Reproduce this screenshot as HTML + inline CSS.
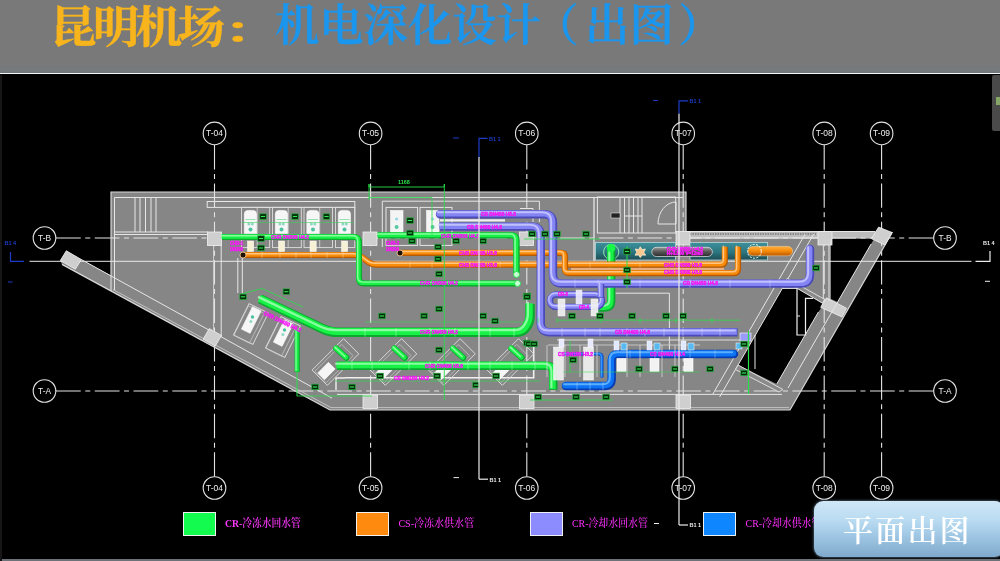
<!DOCTYPE html>
<html lang="zh-CN"><head><meta charset="utf-8"><title>昆明机场：机电深化设计（出图）</title>
<style>
html,body{margin:0;padding:0;background:#000;}
body{width:1000px;height:561px;position:relative;overflow:hidden;font-family:"Liberation Sans","Noto Sans CJK SC",sans-serif;}
#bar{position:absolute;left:0;top:0;width:1000px;height:72.5px;background:linear-gradient(#797979 0,#797979 62px,#747a7e 71px,#6f7578 72.5px);}
#barline{position:absolute;left:0;top:72.6px;width:1000px;height:1.7px;background:#f4f8fc;}
.t{position:absolute;top:0;white-space:nowrap;will-change:transform;font-family:"Liberation Serif","Noto Serif CJK SC",serif;line-height:1;}
#t1{left:49.7px;top:6.5px;font-size:44px;letter-spacing:-3.7px;transform:scaleX(1.06);transform-origin:0 0;font-weight:700;color:#f7b41c;-webkit-text-stroke:.5px #f7b41c;}
#t2{left:274.5px;top:5px;font-size:44.3px;font-weight:600;color:#1a96ee;-webkit-text-stroke:.45px #1a96ee;}
#cad{position:absolute;left:0;top:0;will-change:transform;}
#cad text{font-family:"Liberation Sans","Noto Sans CJK SC",sans-serif;}
.leg{position:absolute;top:512.3px;width:32.5px;height:24.2px;border:1px solid #f0f0f0;box-sizing:border-box;}
.lt{position:absolute;top:516px;font-family:"Liberation Serif","Noto Serif CJK SC",serif;font-size:10.8px;line-height:14px;color:#ff30ff;white-space:nowrap;font-weight:500;transform-origin:0 50%;transform:scaleX(.93);}
#btn{position:absolute;left:813.5px;top:500.5px;width:190px;height:56px;border-radius:9px;
 background:linear-gradient(#cfe7f7 0%,#b9dbf1 35%,#9fc7e4 62%,#7fa9cc 100%);box-shadow:0 0 3px rgba(160,200,230,.7);}
#btn span{will-change:transform;position:absolute;left:29px;top:12px;font-family:"Liberation Serif","Noto Serif CJK SC",serif;font-size:30px;line-height:36px;color:#fff;letter-spacing:2.2px;white-space:nowrap;font-weight:600;}
#botline{position:absolute;left:0;top:559.3px;width:1000px;height:2px;background:#6c7278;}
#lefte{position:absolute;left:0;top:75px;width:1.5px;height:486px;background:#161616;}
#pan{position:absolute;left:991.5px;top:75px;width:9px;height:55.5px;background:#4a4a4a;border-radius:2px 0 0 2px;}
#pan i{position:absolute;left:4.5px;top:21.5px;width:5px;height:8px;background:#86a666;}
</style></head><body>
<div id="bar"></div><div id="barline"></div>
<div class="t" id="t1">昆明机场<span style="display:inline-block;margin-left:3px;transform:scale(1.2,.74);transform-origin:12% 72%">：</span></div>
<div class="t" id="t2">机电深化设计<span style="margin-left:-6.5px;margin-right:6.5px">（</span>出图<span style="margin-left:4.5px">）</span></div>
<svg id="cad" width="1000" height="561" viewBox="0 0 1000 561">
<g id="building">
<polygon points="111.0,192.0 686.0,192.0 686.0,231.4 879.0,231.4 892.5,232.0 790.0,410.0 330.0,410.0 62.0,264.4 60.3,260.6 66.3,250.8 81.3,259.5 111.0,275.5" fill="#868686" stroke="none" stroke-width="1" />
<polygon points="831.0,238.5 874.3,238.5 837.7,302.0 831.0,299.0" fill="#000" stroke="none" stroke-width="1" />
<polygon points="782.3,288.4 797.0,288.4 822.0,303.5 820.5,309.0 818.4,312.0 776.8,384.0 738.1,365.0" fill="#000" stroke="none" stroke-width="1" />
<rect x="686.0" y="232.0" width="189.0" height="6.5" fill="#bcbcbc" stroke="none" stroke-width="1" />
<line x1="690.0" y1="234.0" x2="816.0" y2="234.0" stroke="#8a8a8a" stroke-width="2" stroke-dasharray="1.5 1"/>
<g id="axes"><line x1="214.5" y1="145" x2="214.5" y2="476.5" stroke="#e4e4e4" stroke-width="1.1" stroke-dasharray="24.4 4.5 5 4.5"/>
<circle cx="214.5" cy="133.4" r="11.3" fill="none" stroke="#e4e4e4" stroke-width="1.1"/>
<text x="214.5" y="136.4" fill="#f0f0f0" font-size="8.6" text-anchor="middle" textLength="17" lengthAdjust="spacingAndGlyphs">T-04</text>
<circle cx="214.5" cy="488" r="11.3" fill="none" stroke="#e4e4e4" stroke-width="1.1"/>
<text x="214.5" y="491" fill="#f0f0f0" font-size="8.6" text-anchor="middle" textLength="17" lengthAdjust="spacingAndGlyphs">T-04</text>
<line x1="370.6" y1="145" x2="370.6" y2="476.5" stroke="#e4e4e4" stroke-width="1.1" stroke-dasharray="24.4 4.5 5 4.5"/>
<circle cx="370.6" cy="133.4" r="11.3" fill="none" stroke="#e4e4e4" stroke-width="1.1"/>
<text x="370.6" y="136.4" fill="#f0f0f0" font-size="8.6" text-anchor="middle" textLength="17" lengthAdjust="spacingAndGlyphs">T-05</text>
<circle cx="370.6" cy="488" r="11.3" fill="none" stroke="#e4e4e4" stroke-width="1.1"/>
<text x="370.6" y="491" fill="#f0f0f0" font-size="8.6" text-anchor="middle" textLength="17" lengthAdjust="spacingAndGlyphs">T-05</text>
<line x1="526.8" y1="145" x2="526.8" y2="476.5" stroke="#e4e4e4" stroke-width="1.1" stroke-dasharray="24.4 4.5 5 4.5"/>
<circle cx="526.8" cy="133.4" r="11.3" fill="none" stroke="#e4e4e4" stroke-width="1.1"/>
<text x="526.8" y="136.4" fill="#f0f0f0" font-size="8.6" text-anchor="middle" textLength="17" lengthAdjust="spacingAndGlyphs">T-06</text>
<circle cx="526.8" cy="488" r="11.3" fill="none" stroke="#e4e4e4" stroke-width="1.1"/>
<text x="526.8" y="491" fill="#f0f0f0" font-size="8.6" text-anchor="middle" textLength="17" lengthAdjust="spacingAndGlyphs">T-06</text>
<line x1="683.2" y1="145" x2="683.2" y2="476.5" stroke="#e4e4e4" stroke-width="1.1" stroke-dasharray="24.4 4.5 5 4.5"/>
<circle cx="683.2" cy="133.4" r="11.3" fill="none" stroke="#e4e4e4" stroke-width="1.1"/>
<text x="683.2" y="136.4" fill="#f0f0f0" font-size="8.6" text-anchor="middle" textLength="17" lengthAdjust="spacingAndGlyphs">T-07</text>
<circle cx="683.2" cy="488" r="11.3" fill="none" stroke="#e4e4e4" stroke-width="1.1"/>
<text x="683.2" y="491" fill="#f0f0f0" font-size="8.6" text-anchor="middle" textLength="17" lengthAdjust="spacingAndGlyphs">T-07</text>
<line x1="824.2" y1="145" x2="824.2" y2="476.5" stroke="#e4e4e4" stroke-width="1.1" stroke-dasharray="24.4 4.5 5 4.5"/>
<circle cx="824.2" cy="133.4" r="11.3" fill="none" stroke="#e4e4e4" stroke-width="1.1"/>
<text x="824.2" y="136.4" fill="#f0f0f0" font-size="8.6" text-anchor="middle" textLength="17" lengthAdjust="spacingAndGlyphs">T-08</text>
<circle cx="824.2" cy="488" r="11.3" fill="none" stroke="#e4e4e4" stroke-width="1.1"/>
<text x="824.2" y="491" fill="#f0f0f0" font-size="8.6" text-anchor="middle" textLength="17" lengthAdjust="spacingAndGlyphs">T-08</text>
<line x1="881.6" y1="145" x2="881.6" y2="476.5" stroke="#e4e4e4" stroke-width="1.1" stroke-dasharray="24.4 4.5 5 4.5"/>
<circle cx="881.6" cy="133.4" r="11.3" fill="none" stroke="#e4e4e4" stroke-width="1.1"/>
<text x="881.6" y="136.4" fill="#f0f0f0" font-size="8.6" text-anchor="middle" textLength="17" lengthAdjust="spacingAndGlyphs">T-09</text>
<circle cx="881.6" cy="488" r="11.3" fill="none" stroke="#e4e4e4" stroke-width="1.1"/>
<text x="881.6" y="491" fill="#f0f0f0" font-size="8.6" text-anchor="middle" textLength="17" lengthAdjust="spacingAndGlyphs">T-09</text>
<line x1="56" y1="238" x2="933.5" y2="238" stroke="#e4e4e4" stroke-width="1.1" stroke-dasharray="24.76 4.5 5 4.5"/>
<circle cx="44.5" cy="238" r="11.3" fill="none" stroke="#e4e4e4" stroke-width="1.1"/>
<text x="44.5" y="241" fill="#f0f0f0" font-size="8.6" text-anchor="middle" textLength="13" lengthAdjust="spacingAndGlyphs">T-B</text>
<circle cx="945" cy="238" r="11.3" fill="none" stroke="#e4e4e4" stroke-width="1.1"/>
<text x="945" y="241" fill="#f0f0f0" font-size="8.6" text-anchor="middle" textLength="13" lengthAdjust="spacingAndGlyphs">T-B</text>
<line x1="56" y1="391" x2="933.5" y2="391" stroke="#e4e4e4" stroke-width="1.1" stroke-dasharray="24.76 4.5 5 4.5"/>
<circle cx="44.5" cy="391" r="11.3" fill="none" stroke="#e4e4e4" stroke-width="1.1"/>
<text x="44.5" y="394" fill="#f0f0f0" font-size="8.6" text-anchor="middle" textLength="13" lengthAdjust="spacingAndGlyphs">T-A</text>
<circle cx="945" cy="391" r="11.3" fill="none" stroke="#e4e4e4" stroke-width="1.1"/>
<text x="945" y="394" fill="#f0f0f0" font-size="8.6" text-anchor="middle" textLength="13" lengthAdjust="spacingAndGlyphs">T-A</text></g>
<polyline points="62.0,264.4 330.0,410.0 790.0,410.0 892.5,232.0" fill="none" stroke="#d8d8d8" stroke-width="1.2" />
<polyline points="111.0,291.0 111.0,192.0 686.0,192.0 686.0,231.0" fill="none" stroke="#d8d8d8" stroke-width="1.2" />
<line x1="686.0" y1="231.5" x2="875.0" y2="231.5" stroke="#e6e6e6" stroke-width="1" />
<line x1="690.0" y1="238.0" x2="818.0" y2="238.0" stroke="#e6e6e6" stroke-width="1" />
<polyline points="114.5,290.0 114.5,197.5 683.0,197.5" fill="none" stroke="#e6e6e6" stroke-width="1" />
<line x1="114.5" y1="232.0" x2="208.0" y2="232.0" stroke="#e6e6e6" stroke-width="1" />
<line x1="114.5" y1="234.5" x2="208.0" y2="234.5" stroke="#e6e6e6" stroke-width="1" />
<line x1="135.0" y1="197.5" x2="135.0" y2="232.0" stroke="#e6e6e6" stroke-width="1" />
<line x1="140.0" y1="197.5" x2="140.0" y2="232.0" stroke="#e6e6e6" stroke-width="1" />
<line x1="145.5" y1="197.5" x2="145.5" y2="232.0" stroke="#e6e6e6" stroke-width="1" />
<line x1="151.0" y1="197.5" x2="151.0" y2="232.0" stroke="#e6e6e6" stroke-width="1" />
<line x1="156.0" y1="197.5" x2="156.0" y2="232.0" stroke="#e6e6e6" stroke-width="1" />
<line x1="81.3" y1="259.5" x2="332.0" y2="398.1" stroke="#e6e6e6" stroke-width="1" />
<polyline points="113.0,289.5 331.0,407.6 789.0,407.6" fill="none" stroke="#c8c8c8" stroke-width="0.9" />
<line x1="29.5" y1="261.3" x2="971.5" y2="261.3" stroke="#e8e8e8" stroke-width="1" />
<line x1="221.2" y1="245.0" x2="221.2" y2="336.8" stroke="#e6e6e6" stroke-width="1" />
<line x1="213.6" y1="245.0" x2="213.6" y2="330.0" stroke="#d0d0d0" stroke-width="1" />
<polyline points="237.8,258.0 237.8,293.0" fill="none" stroke="#e6e6e6" stroke-width="1" />
<polyline points="242.3,258.0 242.3,293.0" fill="none" stroke="#e6e6e6" stroke-width="1" />
<line x1="337.0" y1="394.4" x2="782.0" y2="394.4" stroke="#e6e6e6" stroke-width="1" />
<polyline points="345.0,377.7 533.7,377.7 533.7,345.0" fill="none" stroke="#f0f0f0" stroke-width="1.6" />
<rect x="207.2" y="201.5" width="147.6" height="5.9" fill="none" stroke="#e6e6e6" stroke-width="1" />
<line x1="354.8" y1="207.0" x2="354.8" y2="235.0" stroke="#e6e6e6" stroke-width="1" />
<rect x="241.5" y="207.3" width="28.2" height="40.3" fill="none" stroke="#dedede" stroke-width="0.9" />
<line x1="257.2" y1="207.3" x2="257.2" y2="247.6" stroke="#d8d8d8" stroke-width="0.8" />
<path d="M244.3 233.4 V214 Q244.3 210.4 248.0 210.4 H252.8 Q256.5 210.4 256.5 214 V233.4 Z" fill="#f6f6f6" stroke="#fff" stroke-width=".6"/>
<circle cx="250.5" cy="229.5" r="2" fill="#4cc0a0"/><circle cx="248.9" cy="224" r="1.5" fill="#8fd8c4"/><circle cx="252.3" cy="224" r="1.5" fill="#8fd8c4"/>
<line x1="245.5" y1="219.5" x2="255.5" y2="219.5" stroke="#7fe0a0" stroke-width="0.8" />
<rect x="247.5" y="241.0" width="6.2" height="10.5" fill="#f6f0d4" stroke="#fff" stroke-width="0.5" />
<rect x="272.5" y="207.3" width="28.8" height="40.3" fill="none" stroke="#dedede" stroke-width="0.9" />
<line x1="288.2" y1="207.3" x2="288.2" y2="247.6" stroke="#d8d8d8" stroke-width="0.8" />
<path d="M275.3 233.4 V214 Q275.3 210.4 279.0 210.4 H283.8 Q287.5 210.4 287.5 214 V233.4 Z" fill="#f6f6f6" stroke="#fff" stroke-width=".6"/>
<circle cx="281.5" cy="229.5" r="2" fill="#4cc0a0"/><circle cx="279.9" cy="224" r="1.5" fill="#8fd8c4"/><circle cx="283.3" cy="224" r="1.5" fill="#8fd8c4"/>
<line x1="276.5" y1="219.5" x2="286.5" y2="219.5" stroke="#7fe0a0" stroke-width="0.8" />
<rect x="278.5" y="241.0" width="6.2" height="10.5" fill="#f6f0d4" stroke="#fff" stroke-width="0.5" />
<rect x="304.0" y="207.3" width="28.5" height="40.3" fill="none" stroke="#dedede" stroke-width="0.9" />
<line x1="319.7" y1="207.3" x2="319.7" y2="247.6" stroke="#d8d8d8" stroke-width="0.8" />
<path d="M306.8 233.4 V214 Q306.8 210.4 310.5 210.4 H315.3 Q319.0 210.4 319.0 214 V233.4 Z" fill="#f6f6f6" stroke="#fff" stroke-width=".6"/>
<circle cx="313.0" cy="229.5" r="2" fill="#4cc0a0"/><circle cx="311.4" cy="224" r="1.5" fill="#8fd8c4"/><circle cx="314.8" cy="224" r="1.5" fill="#8fd8c4"/>
<line x1="308.0" y1="219.5" x2="318.0" y2="219.5" stroke="#7fe0a0" stroke-width="0.8" />
<rect x="310.0" y="241.0" width="6.2" height="10.5" fill="#f6f0d4" stroke="#fff" stroke-width="0.5" />
<rect x="335.5" y="207.3" width="19.3" height="40.3" fill="none" stroke="#dedede" stroke-width="0.9" />
<path d="M338.3 233.4 V214 Q338.3 210.4 342.0 210.4 H346.8 Q350.5 210.4 350.5 214 V233.4 Z" fill="#f6f6f6" stroke="#fff" stroke-width=".6"/>
<circle cx="344.5" cy="229.5" r="2" fill="#4cc0a0"/><circle cx="342.9" cy="224" r="1.5" fill="#8fd8c4"/><circle cx="346.3" cy="224" r="1.5" fill="#8fd8c4"/>
<line x1="339.5" y1="219.5" x2="349.5" y2="219.5" stroke="#7fe0a0" stroke-width="0.8" />
<rect x="341.5" y="241.0" width="6.2" height="10.5" fill="#f6f0d4" stroke="#fff" stroke-width="0.5" />
<line x1="241.5" y1="222.5" x2="354.0" y2="222.5" stroke="#36d456" stroke-width="0.7" opacity=".8"/>
<polyline points="452.0,201.2 382.3,201.2 382.3,247.0" fill="none" stroke="#e6e6e6" stroke-width="1" />
<rect x="386.0" y="207.4" width="31.6" height="38.0" fill="none" stroke="#e6e6e6" stroke-width="1" />
<rect x="420.0" y="207.4" width="32.0" height="38.0" fill="none" stroke="#e6e6e6" stroke-width="1" />
<rect x="390.6" y="210.5" width="12.4" height="22.0" fill="#f4f4f4" stroke="#fff" stroke-width="0.6" />
<circle cx="396.6" cy="227" r="2" fill="#58c8a0"/><circle cx="396.6" cy="219" r="1.6" fill="#9ad8e8"/>
<rect x="426.6" y="210.5" width="12.4" height="22.0" fill="#f4f4f4" stroke="#fff" stroke-width="0.6" />
<circle cx="432.6" cy="227" r="2" fill="#58c8a0"/><circle cx="432.6" cy="219" r="1.6" fill="#9ad8e8"/>
<line x1="440.0" y1="220.3" x2="505.0" y2="220.3" stroke="#f0f0f0" stroke-width="2.2" />
<rect x="597.4" y="197.0" width="78.3" height="36.0" fill="none" stroke="#e6e6e6" stroke-width="1" />
<line x1="620.0" y1="197.0" x2="620.0" y2="233.0" stroke="#e6e6e6" stroke-width="1" />
<line x1="624.5" y1="197.0" x2="624.5" y2="233.0" stroke="#e6e6e6" stroke-width="1" />
<line x1="629.0" y1="197.0" x2="629.0" y2="233.0" stroke="#e6e6e6" stroke-width="1" />
<line x1="633.5" y1="197.0" x2="633.5" y2="233.0" stroke="#e6e6e6" stroke-width="1" />
<line x1="638.0" y1="197.0" x2="638.0" y2="233.0" stroke="#e6e6e6" stroke-width="1" />
<line x1="642.0" y1="197.0" x2="642.0" y2="233.0" stroke="#e6e6e6" stroke-width="1" />
<line x1="624.5" y1="216.0" x2="642.0" y2="216.0" stroke="#e6e6e6" stroke-width="1" />
<path d="M658 224 A18 22 0 0 1 676 202 L676 224 Z" fill="none" stroke="#e6e6e6"/>
<polyline points="452.0,201.2 539.4,201.2 539.4,222.0" fill="none" stroke="#e6e6e6" stroke-width="1" />
<polyline points="520.0,208.5 533.0,208.5 533.0,222.0" fill="none" stroke="#e6e6e6" stroke-width="1" />
<line x1="594.0" y1="197.7" x2="594.0" y2="262.0" stroke="#e6e6e6" stroke-width="1.3" />
<rect x="611.0" y="213.0" width="9.0" height="5.0" fill="#222" stroke="#ddd" stroke-width="0.6" />
<polyline points="615.4,293.2 669.4,293.2 669.4,350.0" fill="none" stroke="#e6e6e6" stroke-width="1" />
<polyline points="557.0,340.0 740.0,340.0" fill="none" stroke="#dcdcdc" stroke-width="1" />
<polyline points="548.0,345.0 700.0,345.0" fill="none" stroke="#d4d4d4" stroke-width="0.8" />
<rect x="207.5" y="232.0" width="14.0" height="13.5" fill="#cfcfcf" stroke="#f0f0f0" stroke-width="0.8" />
<rect x="363.0" y="232.0" width="14.0" height="13.5" fill="#cfcfcf" stroke="#f0f0f0" stroke-width="0.8" />
<rect x="519.5" y="232.0" width="14.0" height="13.5" fill="#cfcfcf" stroke="#f0f0f0" stroke-width="0.8" />
<rect x="676.0" y="231.5" width="14.0" height="13.5" fill="#cfcfcf" stroke="#f0f0f0" stroke-width="0.8" />
<rect x="818.0" y="231.5" width="14.0" height="13.5" fill="#cfcfcf" stroke="#f0f0f0" stroke-width="0.8" />
<rect x="363.0" y="395.0" width="14.5" height="13.5" fill="#cfcfcf" stroke="#f0f0f0" stroke-width="0.8" />
<rect x="519.5" y="395.0" width="14.5" height="13.5" fill="#cfcfcf" stroke="#f0f0f0" stroke-width="0.8" />
<rect x="676.0" y="395.0" width="14.5" height="13.5" fill="#cfcfcf" stroke="#f0f0f0" stroke-width="0.8" />
<polygon points="66.3,250.8 81.3,259.5 75.3,269.3 60.3,260.6" fill="#cfcfcf" stroke="#f0f0f0" stroke-width="0.8" />
<polygon points="209.3,328.6 221.5,335.4 215.3,346.0 203.1,339.2" fill="#cfcfcf" stroke="#f0f0f0" stroke-width="0.8" />
<polygon points="878.6,227.1 892.0,232.5 884.9,245.0 871.5,238.7" fill="#cfcfcf" stroke="#f0f0f0" stroke-width="0.8" />
<polygon points="826.5,297.8 846.5,308.2 842.0,317.0 820.7,307.3" fill="#cfcfcf" stroke="#f0f0f0" stroke-width="0.8" />
<line x1="813.7" y1="234.0" x2="719.6" y2="397.0" stroke="#e6e6e6" stroke-width="1" />
<line x1="805.2" y1="234.0" x2="712.9" y2="394.0" stroke="#e6e6e6" stroke-width="1" />
<line x1="871.1" y1="244.0" x2="788.0" y2="388.0" stroke="#e6e6e6" stroke-width="1" />
<line x1="818.4" y1="312.0" x2="776.8" y2="384.0" stroke="#e6e6e6" stroke-width="1" />
<line x1="823.3" y1="245.0" x2="823.3" y2="299.0" stroke="#e6e6e6" stroke-width="1" />
<line x1="829.0" y1="245.0" x2="829.0" y2="301.0" stroke="#e6e6e6" stroke-width="1" />
<line x1="831.0" y1="239.0" x2="831.0" y2="245.0" stroke="#e6e6e6" stroke-width="1" />
<polygon points="787.0,278.4 824.5,299.3 822.5,303.0 785.5,281.6" fill="#8a8a8a" stroke="#e6e6e6" stroke-width="0.9" />
<line x1="782.3" y1="288.4" x2="797.0" y2="288.4" stroke="#e6e6e6" stroke-width="1" />
<polygon points="738.1,365.0 782.8,389.4 779.0,392.0 735.5,369.5" fill="#8a8a8a" stroke="#e6e6e6" stroke-width="0.9" />
<polyline points="797.0,288.4 797.0,335.0 805.5,335.0 805.5,298.4 813.0,298.4" fill="none" stroke="#f0f0f0" stroke-width="1.2" />
<line x1="797.0" y1="316.0" x2="800.0" y2="316.0" stroke="#e6e6e6" stroke-width="1" />
<line x1="755.0" y1="335.0" x2="755.0" y2="369.0" stroke="#e6e6e6" stroke-width="1" />
<rect x="-10.8" y="-17.5" width="21.5" height="35" fill="none" stroke="#dcdcdc" stroke-width="0.9" transform="translate(251.0 324.0) rotate(26.3)"/>
<rect x="-8.8" y="-16.5" width="17.5" height="33" fill="none" stroke="#d0d0d0" stroke-width="0.6" transform="translate(249.0 324.5) rotate(26.3)"/>
<rect x="-4.8" y="-12.5" width="9.6" height="25" fill="#f6f6f6" stroke="#fff" stroke-width="0.6" transform="translate(251.3 320.0) rotate(26.3)"/>
<rect x="-10.8" y="-17.5" width="21.5" height="35" fill="none" stroke="#dcdcdc" stroke-width="0.9" transform="translate(283.0 337.0) rotate(26.3)"/>
<rect x="-8.8" y="-16.5" width="17.5" height="33" fill="none" stroke="#d0d0d0" stroke-width="0.6" transform="translate(281.0 337.5) rotate(26.3)"/>
<rect x="-4.8" y="-12.5" width="9.6" height="25" fill="#f6f6f6" stroke="#fff" stroke-width="0.6" transform="translate(283.3 333.0) rotate(26.3)"/>
<circle cx="252.5" cy="317" r="1.7" fill="#4cc0a0"/><circle cx="250.9" cy="321.5" r="1.5" fill="#8fd8c4"/>
<circle cx="284.5" cy="330" r="1.7" fill="#4cc0a0"/><circle cx="282.9" cy="334.5" r="1.5" fill="#8fd8c4"/>
<rect x="-10.8" y="-22.2" width="21.5" height="44.5" fill="none" stroke="#dcdcdc" stroke-width="0.9" transform="translate(335.5 362.0) rotate(45)"/>
<rect x="-8.0" y="-19.0" width="16" height="38" fill="none" stroke="#cfcfcf" stroke-width="0.6" transform="translate(334.0 363.5) rotate(45)"/>
<rect x="-4.8" y="-7.5" width="9.5" height="15" fill="#f6f6f6" stroke="#fff" stroke-width="0.6" transform="translate(326.5 371.0) rotate(45)"/>
<rect x="-10.8" y="-22.2" width="21.5" height="44.5" fill="none" stroke="#dcdcdc" stroke-width="0.9" transform="translate(393.5 362.0) rotate(45)"/>
<rect x="-8.0" y="-19.0" width="16" height="38" fill="none" stroke="#cfcfcf" stroke-width="0.6" transform="translate(392.0 363.5) rotate(45)"/>
<rect x="-4.8" y="-7.5" width="9.5" height="15" fill="#f6f6f6" stroke="#fff" stroke-width="0.6" transform="translate(384.5 371.0) rotate(45)"/>
<rect x="-10.8" y="-22.2" width="21.5" height="44.5" fill="none" stroke="#dcdcdc" stroke-width="0.9" transform="translate(452.0 362.0) rotate(45)"/>
<rect x="-8.0" y="-19.0" width="16" height="38" fill="none" stroke="#cfcfcf" stroke-width="0.6" transform="translate(450.5 363.5) rotate(45)"/>
<rect x="-4.8" y="-7.5" width="9.5" height="15" fill="#f6f6f6" stroke="#fff" stroke-width="0.6" transform="translate(443.0 371.0) rotate(45)"/>
<rect x="-10.8" y="-22.2" width="21.5" height="44.5" fill="none" stroke="#dcdcdc" stroke-width="0.9" transform="translate(510.5 362.0) rotate(45)"/>
<rect x="-8.0" y="-19.0" width="16" height="38" fill="none" stroke="#cfcfcf" stroke-width="0.6" transform="translate(509.0 363.5) rotate(45)"/>
<rect x="-4.8" y="-7.5" width="9.5" height="15" fill="#f6f6f6" stroke="#fff" stroke-width="0.6" transform="translate(501.5 371.0) rotate(45)"/>
<polyline points="336.0,390.0 336.0,378.0 345.0,378.0" fill="none" stroke="#f0f0f0" stroke-width="1.4" />
<rect x="595.5" y="242.5" width="80.0" height="17.5" fill="url(#teal)" stroke="#b8d8d8" stroke-width="0.8" />
<rect x="690.0" y="242.5" width="77.5" height="17.5" fill="url(#teal)" stroke="#b8d8d8" stroke-width="0.8" />
<defs><linearGradient id="teal" x1="0" y1="0" x2="0" y2="1"><stop offset="0" stop-color="#3c909c"/><stop offset=".55" stop-color="#2c7680"/><stop offset="1" stop-color="#1e4c54"/></linearGradient><linearGradient id="cap" x1="0" y1="0" x2="0" y2="1"><stop offset="0" stop-color="#9a9a9a"/><stop offset=".45" stop-color="#5a5a5a"/><stop offset="1" stop-color="#2a2a2a"/></linearGradient><linearGradient id="ocap" x1="0" y1="0" x2="0" y2="1"><stop offset="0" stop-color="#ffb040"/><stop offset=".5" stop-color="#f58a0a"/><stop offset="1" stop-color="#b85800"/></linearGradient></defs>
<rect x="651.8" y="247.3" width="60.6" height="9.2" fill="url(#cap)" stroke="#e8e8e8" stroke-width="0.7" rx="4.7"/>
<rect x="748.0" y="246.4" width="44.6" height="9.4" fill="url(#ocap)" stroke="#ffd9a0" stroke-width="0.5" rx="4.9"/>
<circle cx="754.4" cy="251.3" r="6.9" fill="none" stroke="#fff" stroke-width="1" stroke-dasharray="2 1.4"/>
<polygon points="640.3,246.8 642,249.6 645.4,249 643.8,252.2 645.6,255.2 642.2,255 640.3,257.6 638.6,255 635,255.2 636.8,252.2 635.2,249 638.6,249.6" fill="#f6c890" stroke="#fff4e0" stroke-width=".7"/>
<circle cx="611.2" cy="252" r="7.6" fill="none" stroke="#9af0b0" stroke-width=".9"/>
<path d="M611.2 247.0 L611.2 301.5 Q611.2 307.5 605.2 307.5 L598.0 307.5" fill="none" stroke="#0ca830" stroke-width="8.4" stroke-linecap="butt" stroke-linejoin="round"/>
<path d="M611.2 247.0 L611.2 301.5 Q611.2 307.5 605.2 307.5 L598.0 307.5" fill="none" stroke="#18f246" stroke-width="6.2" stroke-linecap="butt" stroke-linejoin="round" transform="translate(-0.71 -0.71)"/>
<path d="M611.2 247.0 L611.2 301.5 Q611.2 307.5 605.2 307.5 L598.0 307.5" fill="none" stroke="#a8ffb8" stroke-width="2.0" stroke-linecap="butt" stroke-linejoin="round" opacity=".8" transform="translate(-1.85 -1.85)"/>
<circle cx="611.2" cy="248" r="4.2" fill="#18f648"/>
<line x1="571.0" y1="268.9" x2="724.0" y2="268.9" stroke="#e8b080" stroke-width="3" />
<path d="M242.0 255.0 L355.0 255.0 Q359.0 255.0 362.2 257.4 L368.8 262.3 Q372.0 264.7 376.0 264.7 L720.8 264.7 Q724.8 264.7 724.8 260.7 L724.8 247.0" fill="none" stroke="#b85a00" stroke-width="6.2" stroke-linecap="butt" stroke-linejoin="round"/>
<path d="M242.0 255.0 L355.0 255.0 Q359.0 255.0 362.2 257.4 L368.8 262.3 Q372.0 264.7 376.0 264.7 L720.8 264.7 Q724.8 264.7 724.8 260.7 L724.8 247.0" fill="none" stroke="#fa8c0c" stroke-width="4.6" stroke-linecap="butt" stroke-linejoin="round" transform="translate(-0.53 -0.53)"/>
<path d="M242.0 255.0 L355.0 255.0 Q359.0 255.0 362.2 257.4 L368.8 262.3 Q372.0 264.7 376.0 264.7 L720.8 264.7 Q724.8 264.7 724.8 260.7 L724.8 247.0" fill="none" stroke="#ffd4a0" stroke-width="1.5" stroke-linecap="butt" stroke-linejoin="round" opacity=".8" transform="translate(-1.36 -1.36)"/>
<path d="M398.7 252.8 L561.0 252.8 Q565.0 252.8 565.0 256.8 L565.0 269.1 Q565.0 273.1 569.0 273.1 L734.0 273.1 Q738.0 273.1 738.0 269.1 L738.0 247.0" fill="none" stroke="#b85a00" stroke-width="6.2" stroke-linecap="butt" stroke-linejoin="round"/>
<path d="M398.7 252.8 L561.0 252.8 Q565.0 252.8 565.0 256.8 L565.0 269.1 Q565.0 273.1 569.0 273.1 L734.0 273.1 Q738.0 273.1 738.0 269.1 L738.0 247.0" fill="none" stroke="#fa8c0c" stroke-width="4.6" stroke-linecap="butt" stroke-linejoin="round" transform="translate(-0.53 -0.53)"/>
<path d="M398.7 252.8 L561.0 252.8 Q565.0 252.8 565.0 256.8 L565.0 269.1 Q565.0 273.1 569.0 273.1 L734.0 273.1 Q738.0 273.1 738.0 269.1 L738.0 247.0" fill="none" stroke="#ffd4a0" stroke-width="1.5" stroke-linecap="butt" stroke-linejoin="round" opacity=".8" transform="translate(-1.36 -1.36)"/>
<circle cx="243" cy="255" r="3" fill="#201000" stroke="#ffd9a0" stroke-width=".8"/><circle cx="400" cy="253" r="3" fill="#201000" stroke="#ffd9a0" stroke-width=".8"/>
<path d="M222.0 237.0 L354.0 237.0 Q359.0 237.0 359.0 242.0 L359.0 278.4 Q359.0 283.4 364.0 283.4 L516.5 283.4" fill="none" stroke="#0ca830" stroke-width="6" stroke-linecap="butt" stroke-linejoin="round"/>
<path d="M222.0 237.0 L354.0 237.0 Q359.0 237.0 359.0 242.0 L359.0 278.4 Q359.0 283.4 364.0 283.4 L516.5 283.4" fill="none" stroke="#18f246" stroke-width="4.4" stroke-linecap="butt" stroke-linejoin="round" transform="translate(-0.51 -0.51)"/>
<path d="M222.0 237.0 L354.0 237.0 Q359.0 237.0 359.0 242.0 L359.0 278.4 Q359.0 283.4 364.0 283.4 L516.5 283.4" fill="none" stroke="#a8ffb8" stroke-width="1.4" stroke-linecap="butt" stroke-linejoin="round" opacity=".8" transform="translate(-1.32 -1.32)"/>
<path d="M378.0 235.4 L511.5 235.4 Q516.5 235.4 516.5 240.4 L516.5 273.0" fill="none" stroke="#0ca830" stroke-width="6.4" stroke-linecap="butt" stroke-linejoin="round"/>
<path d="M378.0 235.4 L511.5 235.4 Q516.5 235.4 516.5 240.4 L516.5 273.0" fill="none" stroke="#18f246" stroke-width="4.7" stroke-linecap="butt" stroke-linejoin="round" transform="translate(-0.54 -0.54)"/>
<path d="M378.0 235.4 L511.5 235.4 Q516.5 235.4 516.5 240.4 L516.5 273.0" fill="none" stroke="#a8ffb8" stroke-width="1.5" stroke-linecap="butt" stroke-linejoin="round" opacity=".8" transform="translate(-1.41 -1.41)"/>
<path d="M297.2 330.0 L297.2 372.0" fill="none" stroke="#0ca830" stroke-width="5.2" stroke-linecap="butt" stroke-linejoin="round"/>
<path d="M297.2 330.0 L297.2 372.0" fill="none" stroke="#18f246" stroke-width="3.8" stroke-linecap="butt" stroke-linejoin="round" transform="translate(-0.44 -0.44)"/>
<path d="M297.2 330.0 L297.2 372.0" fill="none" stroke="#a8ffb8" stroke-width="1.2" stroke-linecap="butt" stroke-linejoin="round" opacity=".8" transform="translate(-1.14 -1.14)"/>
<path d="M440.0 214.2 L544.0 214.2 Q553.0 214.2 553.0 223.2 L553.0 274.6 Q553.0 283.6 562.0 283.6 L801.0 283.6 Q810.0 283.6 810.0 274.6 L810.0 249.0" fill="none" stroke="#4a4ab8" stroke-width="8.4" stroke-linecap="round" stroke-linejoin="round"/>
<path d="M440.0 214.2 L544.0 214.2 Q553.0 214.2 553.0 223.2 L553.0 274.6 Q553.0 283.6 562.0 283.6 L801.0 283.6 Q810.0 283.6 810.0 274.6 L810.0 249.0" fill="none" stroke="#8484f4" stroke-width="6.2" stroke-linecap="round" stroke-linejoin="round" transform="translate(-0.71 -0.71)"/>
<path d="M440.0 214.2 L544.0 214.2 Q553.0 214.2 553.0 223.2 L553.0 274.6 Q553.0 283.6 562.0 283.6 L801.0 283.6 Q810.0 283.6 810.0 274.6 L810.0 249.0" fill="none" stroke="#d0d0ff" stroke-width="2.0" stroke-linecap="round" stroke-linejoin="round" opacity=".8" transform="translate(-1.85 -1.85)"/>
<path d="M440.0 226.6 L531.8 226.6 Q540.8 226.6 540.8 235.6 L540.8 323.3 Q540.8 332.3 549.8 332.3 L737.6 332.3" fill="none" stroke="#4a4ab8" stroke-width="8.4" stroke-linecap="butt" stroke-linejoin="round"/>
<path d="M440.0 226.6 L531.8 226.6 Q540.8 226.6 540.8 235.6 L540.8 323.3 Q540.8 332.3 549.8 332.3 L737.6 332.3" fill="none" stroke="#8484f4" stroke-width="6.2" stroke-linecap="butt" stroke-linejoin="round" transform="translate(-0.71 -0.71)"/>
<path d="M440.0 226.6 L531.8 226.6 Q540.8 226.6 540.8 235.6 L540.8 323.3 Q540.8 332.3 549.8 332.3 L737.6 332.3" fill="none" stroke="#d0d0ff" stroke-width="2.0" stroke-linecap="butt" stroke-linejoin="round" opacity=".8" transform="translate(-1.85 -1.85)"/>
<rect x="550" y="294.5" width="52" height="12.4" rx="6" fill="none" stroke="#4a4ab8" stroke-width="6.4"/>
<rect x="549.5" y="294" width="52" height="12.4" rx="6" fill="none" stroke="#8484f4" stroke-width="4.6"/>
<rect x="548.8" y="293.3" width="52" height="12.4" rx="6" fill="none" stroke="#d0d0ff" stroke-width="1.4" opacity=".8"/>
<path d="M601.0 284.0 L601.0 298.0" fill="none" stroke="#4a4ab8" stroke-width="6.4" stroke-linecap="butt" stroke-linejoin="round"/>
<path d="M601.0 284.0 L601.0 298.0" fill="none" stroke="#8484f4" stroke-width="4.7" stroke-linecap="butt" stroke-linejoin="round" transform="translate(-0.54 -0.54)"/>
<path d="M601.0 284.0 L601.0 298.0" fill="none" stroke="#d0d0ff" stroke-width="1.5" stroke-linecap="butt" stroke-linejoin="round" opacity=".8" transform="translate(-1.41 -1.41)"/>
<circle cx="516.5" cy="274.5" r="3" fill="#c8ffd4" stroke="#20e048" stroke-width=".9"/>
<circle cx="517.5" cy="283.4" r="3" fill="#c8ffd4" stroke="#20e048" stroke-width=".9"/>
<path d="M260.2 299.0 L322.8 328.9 Q330.0 332.3 338.0 332.3 L516.8 332.3 Q523.0 332.3 526.5 327.1 L526.5 327.1 Q530.0 322.0 530.0 315.8 L530.0 304.0" fill="none" stroke="#0ca830" stroke-width="9.6" stroke-linecap="butt" stroke-linejoin="round"/>
<path d="M260.2 299.0 L322.8 328.9 Q330.0 332.3 338.0 332.3 L516.8 332.3 Q523.0 332.3 526.5 327.1 L526.5 327.1 Q530.0 322.0 530.0 315.8 L530.0 304.0" fill="none" stroke="#18f246" stroke-width="7.1" stroke-linecap="butt" stroke-linejoin="round" transform="translate(-0.82 -0.82)"/>
<path d="M260.2 299.0 L322.8 328.9 Q330.0 332.3 338.0 332.3 L516.8 332.3 Q523.0 332.3 526.5 327.1 L526.5 327.1 Q530.0 322.0 530.0 315.8 L530.0 304.0" fill="none" stroke="#a8ffb8" stroke-width="2.3" stroke-linecap="butt" stroke-linejoin="round" opacity=".8" transform="translate(-2.11 -2.11)"/>
<path d="M337.0 365.7 L546.3 365.7 Q553.3 365.7 553.3 372.7 L553.3 389.8" fill="none" stroke="#0ca830" stroke-width="8.5" stroke-linecap="butt" stroke-linejoin="round"/>
<path d="M337.0 365.7 L546.3 365.7 Q553.3 365.7 553.3 372.7 L553.3 389.8" fill="none" stroke="#18f246" stroke-width="6.3" stroke-linecap="butt" stroke-linejoin="round" transform="translate(-0.72 -0.72)"/>
<path d="M337.0 365.7 L546.3 365.7 Q553.3 365.7 553.3 372.7 L553.3 389.8" fill="none" stroke="#a8ffb8" stroke-width="2.0" stroke-linecap="butt" stroke-linejoin="round" opacity=".8" transform="translate(-1.87 -1.87)"/>
<path d="M336.2 348.5 L346.4 357.8" fill="none" stroke="#0ca830" stroke-width="6.2" stroke-linecap="round" stroke-linejoin="round"/>
<path d="M336.2 348.5 L346.4 357.8" fill="none" stroke="#18f246" stroke-width="4.6" stroke-linecap="round" stroke-linejoin="round" transform="translate(-0.53 -0.53)"/>
<path d="M336.2 348.5 L346.4 357.8" fill="none" stroke="#a8ffb8" stroke-width="1.5" stroke-linecap="round" stroke-linejoin="round" opacity=".8" transform="translate(-1.36 -1.36)"/>
<path d="M394.5 348.5 L404.7 357.8" fill="none" stroke="#0ca830" stroke-width="6.2" stroke-linecap="round" stroke-linejoin="round"/>
<path d="M394.5 348.5 L404.7 357.8" fill="none" stroke="#18f246" stroke-width="4.6" stroke-linecap="round" stroke-linejoin="round" transform="translate(-0.53 -0.53)"/>
<path d="M394.5 348.5 L404.7 357.8" fill="none" stroke="#a8ffb8" stroke-width="1.5" stroke-linecap="round" stroke-linejoin="round" opacity=".8" transform="translate(-1.36 -1.36)"/>
<path d="M453.0 348.5 L463.2 357.8" fill="none" stroke="#0ca830" stroke-width="6.2" stroke-linecap="round" stroke-linejoin="round"/>
<path d="M453.0 348.5 L463.2 357.8" fill="none" stroke="#18f246" stroke-width="4.6" stroke-linecap="round" stroke-linejoin="round" transform="translate(-0.53 -0.53)"/>
<path d="M453.0 348.5 L463.2 357.8" fill="none" stroke="#a8ffb8" stroke-width="1.5" stroke-linecap="round" stroke-linejoin="round" opacity=".8" transform="translate(-1.36 -1.36)"/>
<path d="M511.5 348.5 L521.7 357.8" fill="none" stroke="#0ca830" stroke-width="6.2" stroke-linecap="round" stroke-linejoin="round"/>
<path d="M511.5 348.5 L521.7 357.8" fill="none" stroke="#18f246" stroke-width="4.6" stroke-linecap="round" stroke-linejoin="round" transform="translate(-0.53 -0.53)"/>
<path d="M511.5 348.5 L521.7 357.8" fill="none" stroke="#a8ffb8" stroke-width="1.5" stroke-linecap="round" stroke-linejoin="round" opacity=".8" transform="translate(-1.36 -1.36)"/>
<path d="M734.0 354.0 L618.7 354.0 Q611.7 354.0 611.7 361.0 L611.7 379.0 Q611.7 386.0 604.7 386.0 L566.0 386.0" fill="none" stroke="#083cb0" stroke-width="8.4" stroke-linecap="round" stroke-linejoin="round"/>
<path d="M734.0 354.0 L618.7 354.0 Q611.7 354.0 611.7 361.0 L611.7 379.0 Q611.7 386.0 604.7 386.0 L566.0 386.0" fill="none" stroke="#0c74f4" stroke-width="6.2" stroke-linecap="round" stroke-linejoin="round" transform="translate(-0.71 -0.71)"/>
<path d="M734.0 354.0 L618.7 354.0 Q611.7 354.0 611.7 361.0 L611.7 379.0 Q611.7 386.0 604.7 386.0 L566.0 386.0" fill="none" stroke="#70bcff" stroke-width="2.0" stroke-linecap="round" stroke-linejoin="round" opacity=".8" transform="translate(-1.85 -1.85)"/>
<path d="M558.0 354.0 L599.0 354.0 Q602.0 354.0 602.0 357.0 L602.0 377.5" fill="none" stroke="#083cb0" stroke-width="3" stroke-linecap="butt" stroke-linejoin="round"/>
<path d="M558.0 354.0 L599.0 354.0 Q602.0 354.0 602.0 357.0 L602.0 377.5" fill="none" stroke="#0c74f4" stroke-width="2.2" stroke-linecap="butt" stroke-linejoin="round" transform="translate(-0.26 -0.26)"/>
<path d="M558.0 354.0 L599.0 354.0 Q602.0 354.0 602.0 357.0 L602.0 377.5" fill="none" stroke="#70bcff" stroke-width="0.7" stroke-linecap="butt" stroke-linejoin="round" opacity=".8" transform="translate(-0.66 -0.66)"/>
<line x1="262.0" y1="252.0" x2="262.0" y2="258.0" stroke="#ffe0b0" stroke-width="0.6" opacity=".7"/>
<line x1="280.0" y1="252.0" x2="280.0" y2="258.0" stroke="#ffe0b0" stroke-width="0.6" opacity=".7"/>
<line x1="296.0" y1="252.0" x2="296.0" y2="258.0" stroke="#ffe0b0" stroke-width="0.6" opacity=".7"/>
<line x1="311.0" y1="252.0" x2="311.0" y2="258.0" stroke="#ffe0b0" stroke-width="0.6" opacity=".7"/>
<line x1="327.0" y1="252.0" x2="327.0" y2="258.0" stroke="#ffe0b0" stroke-width="0.6" opacity=".7"/>
<line x1="343.0" y1="252.0" x2="343.0" y2="258.0" stroke="#ffe0b0" stroke-width="0.6" opacity=".7"/>
<line x1="410.0" y1="261.6" x2="410.0" y2="267.8" stroke="#ffe0b0" stroke-width="0.6" opacity=".6"/>
<line x1="432.0" y1="261.6" x2="432.0" y2="267.8" stroke="#ffe0b0" stroke-width="0.6" opacity=".6"/>
<line x1="470.0" y1="261.6" x2="470.0" y2="267.8" stroke="#ffe0b0" stroke-width="0.6" opacity=".6"/>
<line x1="500.0" y1="261.6" x2="500.0" y2="267.8" stroke="#ffe0b0" stroke-width="0.6" opacity=".6"/>
<line x1="590.0" y1="261.6" x2="590.0" y2="267.8" stroke="#ffe0b0" stroke-width="0.6" opacity=".6"/>
<line x1="640.0" y1="261.6" x2="640.0" y2="267.8" stroke="#ffe0b0" stroke-width="0.6" opacity=".6"/>
<line x1="700.0" y1="261.6" x2="700.0" y2="267.8" stroke="#ffe0b0" stroke-width="0.6" opacity=".6"/>
<line x1="365.0" y1="328.0" x2="365.0" y2="336.6" stroke="#c8ffd4" stroke-width="0.6" opacity=".7"/>
<line x1="396.0" y1="328.0" x2="396.0" y2="336.6" stroke="#c8ffd4" stroke-width="0.6" opacity=".7"/>
<line x1="430.0" y1="328.0" x2="430.0" y2="336.6" stroke="#c8ffd4" stroke-width="0.6" opacity=".7"/>
<line x1="455.0" y1="328.0" x2="455.0" y2="336.6" stroke="#c8ffd4" stroke-width="0.6" opacity=".7"/>
<line x1="490.0" y1="328.0" x2="490.0" y2="336.6" stroke="#c8ffd4" stroke-width="0.6" opacity=".7"/>
<line x1="514.0" y1="328.0" x2="514.0" y2="336.6" stroke="#c8ffd4" stroke-width="0.6" opacity=".7"/>
<line x1="352.0" y1="361.2" x2="352.0" y2="369.8" stroke="#c8ffd4" stroke-width="0.6" opacity=".7"/>
<line x1="372.0" y1="361.2" x2="372.0" y2="369.8" stroke="#c8ffd4" stroke-width="0.6" opacity=".7"/>
<line x1="409.0" y1="361.2" x2="409.0" y2="369.8" stroke="#c8ffd4" stroke-width="0.6" opacity=".7"/>
<line x1="430.0" y1="361.2" x2="430.0" y2="369.8" stroke="#c8ffd4" stroke-width="0.6" opacity=".7"/>
<line x1="468.0" y1="361.2" x2="468.0" y2="369.8" stroke="#c8ffd4" stroke-width="0.6" opacity=".7"/>
<line x1="490.0" y1="361.2" x2="490.0" y2="369.8" stroke="#c8ffd4" stroke-width="0.6" opacity=".7"/>
<line x1="512.0" y1="361.2" x2="512.0" y2="369.8" stroke="#c8ffd4" stroke-width="0.6" opacity=".7"/>
<line x1="535.0" y1="361.2" x2="535.0" y2="369.8" stroke="#c8ffd4" stroke-width="0.6" opacity=".7"/>
<line x1="562.0" y1="328.2" x2="562.0" y2="336.4" stroke="#e0e0ff" stroke-width="0.6" opacity=".7"/>
<line x1="585.0" y1="328.2" x2="585.0" y2="336.4" stroke="#e0e0ff" stroke-width="0.6" opacity=".7"/>
<line x1="600.0" y1="328.2" x2="600.0" y2="336.4" stroke="#e0e0ff" stroke-width="0.6" opacity=".7"/>
<line x1="627.0" y1="328.2" x2="627.0" y2="336.4" stroke="#e0e0ff" stroke-width="0.6" opacity=".7"/>
<line x1="645.0" y1="328.2" x2="645.0" y2="336.4" stroke="#e0e0ff" stroke-width="0.6" opacity=".7"/>
<line x1="664.0" y1="328.2" x2="664.0" y2="336.4" stroke="#e0e0ff" stroke-width="0.6" opacity=".7"/>
<line x1="683.0" y1="328.2" x2="683.0" y2="336.4" stroke="#e0e0ff" stroke-width="0.6" opacity=".7"/>
<line x1="702.0" y1="328.2" x2="702.0" y2="336.4" stroke="#e0e0ff" stroke-width="0.6" opacity=".7"/>
<line x1="720.0" y1="328.2" x2="720.0" y2="336.4" stroke="#e0e0ff" stroke-width="0.6" opacity=".7"/>
<line x1="575.0" y1="279.5" x2="575.0" y2="287.7" stroke="#e0e0ff" stroke-width="0.6" opacity=".6"/>
<line x1="598.0" y1="279.5" x2="598.0" y2="287.7" stroke="#e0e0ff" stroke-width="0.6" opacity=".6"/>
<line x1="640.0" y1="279.5" x2="640.0" y2="287.7" stroke="#e0e0ff" stroke-width="0.6" opacity=".6"/>
<line x1="690.0" y1="279.5" x2="690.0" y2="287.7" stroke="#e0e0ff" stroke-width="0.6" opacity=".6"/>
<line x1="730.0" y1="279.5" x2="730.0" y2="287.7" stroke="#e0e0ff" stroke-width="0.6" opacity=".6"/>
<line x1="770.0" y1="279.5" x2="770.0" y2="287.7" stroke="#e0e0ff" stroke-width="0.6" opacity=".6"/>
<line x1="630.0" y1="350.0" x2="630.0" y2="358.0" stroke="#b0d8ff" stroke-width="0.6" opacity=".7"/>
<line x1="655.0" y1="350.0" x2="655.0" y2="358.0" stroke="#b0d8ff" stroke-width="0.6" opacity=".7"/>
<line x1="690.0" y1="350.0" x2="690.0" y2="358.0" stroke="#b0d8ff" stroke-width="0.6" opacity=".7"/>
<line x1="715.0" y1="350.0" x2="715.0" y2="358.0" stroke="#b0d8ff" stroke-width="0.6" opacity=".7"/>
<line x1="577.0" y1="382.0" x2="577.0" y2="390.0" stroke="#b0d8ff" stroke-width="0.6" opacity=".7"/>
<line x1="590.0" y1="382.0" x2="590.0" y2="390.0" stroke="#b0d8ff" stroke-width="0.6" opacity=".7"/>
<line x1="603.0" y1="382.0" x2="603.0" y2="390.0" stroke="#b0d8ff" stroke-width="0.6" opacity=".7"/>
<rect x="553.5" y="347.0" width="10.0" height="33.0" fill="#f2f2f2" stroke="#fff" stroke-width="0.6" opacity=".92"/>
<rect x="583.5" y="347.0" width="10.0" height="33.0" fill="#f2f2f2" stroke="#fff" stroke-width="0.6" opacity=".92"/>
<rect x="617.0" y="358.5" width="9.0" height="13.0" fill="#f2f2f2" stroke="#fff" stroke-width="0.6" />
<rect x="614.0" y="341.0" width="5.0" height="9.0" fill="#dfe8ff" stroke="#fff" stroke-width="0.5" />
<rect x="621.0" y="343.0" width="6.0" height="7.0" fill="#58b8f0" stroke="#fff" stroke-width="0.5" />
<rect x="650.0" y="358.5" width="9.0" height="13.0" fill="#f2f2f2" stroke="#fff" stroke-width="0.6" />
<rect x="647.0" y="341.0" width="5.0" height="9.0" fill="#dfe8ff" stroke="#fff" stroke-width="0.5" />
<rect x="654.0" y="343.0" width="6.0" height="7.0" fill="#58b8f0" stroke="#fff" stroke-width="0.5" />
<rect x="684.0" y="358.5" width="9.0" height="13.0" fill="#f2f2f2" stroke="#fff" stroke-width="0.6" />
<rect x="681.0" y="341.0" width="5.0" height="9.0" fill="#dfe8ff" stroke="#fff" stroke-width="0.5" />
<rect x="688.0" y="343.0" width="6.0" height="7.0" fill="#58b8f0" stroke="#fff" stroke-width="0.5" />
<rect x="559.0" y="339.0" width="5.0" height="8.0" fill="#e8e8ff" stroke="#fff" stroke-width="0.5" />
<rect x="588.0" y="339.0" width="5.0" height="8.0" fill="#e8e8ff" stroke="#fff" stroke-width="0.5" />
<rect x="558.0" y="299.0" width="7.0" height="17.0" fill="#f4f4f4" stroke="#fff" stroke-width="0.5" opacity=".9"/>
<rect x="591.0" y="299.0" width="7.0" height="17.0" fill="#f4f4f4" stroke="#fff" stroke-width="0.5" opacity=".9"/>
<rect x="576.0" y="290.0" width="6.0" height="14.0" fill="#eeeeff" stroke="#fff" stroke-width="0.5" opacity=".9"/>
<line x1="547.0" y1="345.0" x2="547.0" y2="377.0" stroke="#d8d8d8" stroke-width="0.8" />
<line x1="565.0" y1="345.0" x2="565.0" y2="377.0" stroke="#d8d8d8" stroke-width="0.8" />
<line x1="580.0" y1="345.0" x2="580.0" y2="377.0" stroke="#d8d8d8" stroke-width="0.8" />
<line x1="597.0" y1="345.0" x2="597.0" y2="377.0" stroke="#d8d8d8" stroke-width="0.8" />
<line x1="627.0" y1="345.0" x2="627.0" y2="377.0" stroke="#d8d8d8" stroke-width="0.8" />
<line x1="640.0" y1="345.0" x2="640.0" y2="377.0" stroke="#d8d8d8" stroke-width="0.8" />
<line x1="662.0" y1="345.0" x2="662.0" y2="377.0" stroke="#d8d8d8" stroke-width="0.8" />
<line x1="675.0" y1="345.0" x2="675.0" y2="377.0" stroke="#d8d8d8" stroke-width="0.8" />
<rect x="740.0" y="333.0" width="11.0" height="8.0" fill="#9a9af8" stroke="#fff" stroke-width="0.6" />
<rect x="736.0" y="343.0" width="6.0" height="6.0" fill="#58b8f0" stroke="#fff" stroke-width="0.5" />
<polyline points="369.0,200.0 369.0,184.0 369.0,187.0 444.3,187.0 444.3,184.0 444.3,400.0" fill="none" stroke="#28e048" stroke-width="0.9" />
<line x1="369.0" y1="197.5" x2="432.0" y2="197.5" stroke="#28e048" stroke-width="0.8" />
<line x1="432.0" y1="197.5" x2="432.0" y2="235.0" stroke="#28e048" stroke-width="0.8" />
<line x1="557.8" y1="320.2" x2="740.0" y2="320.2" stroke="#28e048" stroke-width="0.8" />
<line x1="524.0" y1="239.0" x2="600.0" y2="239.0" stroke="#28e048" stroke-width="0.8" />
<line x1="365.0" y1="322.0" x2="524.0" y2="322.0" stroke="#28e048" stroke-width="0.7" opacity=".8"/>
<line x1="297.0" y1="372.0" x2="297.0" y2="396.0" stroke="#28e048" stroke-width="1" />
<line x1="297.0" y1="396.0" x2="372.0" y2="396.0" stroke="#28e048" stroke-width="0.8" />
<line x1="335.0" y1="381.0" x2="540.0" y2="381.0" stroke="#28e048" stroke-width="0.8" opacity=".8"/>
<line x1="627.0" y1="246.0" x2="627.0" y2="288.0" stroke="#28e048" stroke-width="1" />
<line x1="570.0" y1="372.0" x2="570.0" y2="341.0" stroke="#28e048" stroke-width="0.8" />
<line x1="563.0" y1="372.0" x2="700.0" y2="372.0" stroke="#28e048" stroke-width="0.7" opacity=".7"/>
<line x1="748.5" y1="331.0" x2="748.5" y2="394.0" stroke="#28e048" stroke-width="1.2" />
<line x1="530.0" y1="400.0" x2="613.0" y2="400.0" stroke="#28e048" stroke-width="0.8" />
<line x1="241.0" y1="294.0" x2="262.0" y2="288.5" stroke="#28e048" stroke-width="0.8" />
<line x1="262.0" y1="288.5" x2="303.0" y2="307.0" stroke="#28e048" stroke-width="0.8" />
<line x1="538.0" y1="318.0" x2="538.0" y2="323.0" stroke="#28e048" stroke-width="0.8" />
<line x1="557.0" y1="318.0" x2="557.0" y2="323.0" stroke="#28e048" stroke-width="0.8" />
<line x1="601.0" y1="318.0" x2="601.0" y2="323.0" stroke="#28e048" stroke-width="0.8" />
<line x1="640.0" y1="318.0" x2="640.0" y2="323.0" stroke="#28e048" stroke-width="0.8" />
<line x1="676.0" y1="318.0" x2="676.0" y2="323.0" stroke="#28e048" stroke-width="0.8" />
<line x1="712.0" y1="318.0" x2="712.0" y2="323.0" stroke="#28e048" stroke-width="0.8" />
<rect x="259.8" y="213.8" width="6.5" height="5.5" fill="#032a08" stroke="#1fae38" stroke-width="0.7" />
<line x1="260.9" y1="216.5" x2="265.1" y2="216.5" stroke="#35e85a" stroke-width="1.1" />
<rect x="291.8" y="213.8" width="6.5" height="5.5" fill="#032a08" stroke="#1fae38" stroke-width="0.7" />
<line x1="292.9" y1="216.5" x2="297.1" y2="216.5" stroke="#35e85a" stroke-width="1.1" />
<rect x="323.2" y="213.8" width="6.5" height="5.5" fill="#032a08" stroke="#1fae38" stroke-width="0.7" />
<line x1="324.4" y1="216.5" x2="328.6" y2="216.5" stroke="#35e85a" stroke-width="1.1" />
<rect x="257.8" y="235.8" width="6.5" height="5.5" fill="#032a08" stroke="#1fae38" stroke-width="0.7" />
<line x1="258.9" y1="238.5" x2="263.1" y2="238.5" stroke="#35e85a" stroke-width="1.1" />
<rect x="257.8" y="245.2" width="6.5" height="5.5" fill="#032a08" stroke="#1fae38" stroke-width="0.7" />
<line x1="258.9" y1="248.0" x2="263.1" y2="248.0" stroke="#35e85a" stroke-width="1.1" />
<rect x="406.8" y="217.8" width="6.5" height="5.5" fill="#032a08" stroke="#1fae38" stroke-width="0.7" />
<line x1="407.9" y1="220.5" x2="412.1" y2="220.5" stroke="#35e85a" stroke-width="1.1" />
<rect x="406.8" y="230.2" width="6.5" height="5.5" fill="#032a08" stroke="#1fae38" stroke-width="0.7" />
<line x1="407.9" y1="233.0" x2="412.1" y2="233.0" stroke="#35e85a" stroke-width="1.1" />
<rect x="408.8" y="238.2" width="6.5" height="5.5" fill="#032a08" stroke="#1fae38" stroke-width="0.7" />
<line x1="409.9" y1="241.0" x2="414.1" y2="241.0" stroke="#35e85a" stroke-width="1.1" />
<rect x="452.8" y="238.2" width="6.5" height="5.5" fill="#032a08" stroke="#1fae38" stroke-width="0.7" />
<line x1="453.9" y1="241.0" x2="458.1" y2="241.0" stroke="#35e85a" stroke-width="1.1" />
<rect x="479.8" y="238.2" width="6.5" height="5.5" fill="#032a08" stroke="#1fae38" stroke-width="0.7" />
<line x1="480.9" y1="241.0" x2="485.1" y2="241.0" stroke="#35e85a" stroke-width="1.1" />
<rect x="434.8" y="244.2" width="6.5" height="5.5" fill="#032a08" stroke="#1fae38" stroke-width="0.7" />
<line x1="435.9" y1="247.0" x2="440.1" y2="247.0" stroke="#35e85a" stroke-width="1.1" />
<rect x="434.8" y="256.2" width="6.5" height="5.5" fill="#032a08" stroke="#1fae38" stroke-width="0.7" />
<line x1="435.9" y1="259.0" x2="440.1" y2="259.0" stroke="#35e85a" stroke-width="1.1" />
<rect x="435.8" y="271.2" width="6.5" height="5.5" fill="#032a08" stroke="#1fae38" stroke-width="0.7" />
<line x1="436.9" y1="274.0" x2="441.1" y2="274.0" stroke="#35e85a" stroke-width="1.1" />
<rect x="435.8" y="306.2" width="6.5" height="5.5" fill="#032a08" stroke="#1fae38" stroke-width="0.7" />
<line x1="436.9" y1="309.0" x2="441.1" y2="309.0" stroke="#35e85a" stroke-width="1.1" />
<rect x="378.8" y="313.2" width="6.5" height="5.5" fill="#032a08" stroke="#1fae38" stroke-width="0.7" />
<line x1="379.9" y1="316.0" x2="384.1" y2="316.0" stroke="#35e85a" stroke-width="1.1" />
<rect x="420.8" y="313.2" width="6.5" height="5.5" fill="#032a08" stroke="#1fae38" stroke-width="0.7" />
<line x1="421.9" y1="316.0" x2="426.1" y2="316.0" stroke="#35e85a" stroke-width="1.1" />
<rect x="479.8" y="313.2" width="6.5" height="5.5" fill="#032a08" stroke="#1fae38" stroke-width="0.7" />
<line x1="480.9" y1="316.0" x2="485.1" y2="316.0" stroke="#35e85a" stroke-width="1.1" />
<rect x="491.8" y="318.2" width="6.5" height="5.5" fill="#032a08" stroke="#1fae38" stroke-width="0.7" />
<line x1="492.9" y1="321.0" x2="497.1" y2="321.0" stroke="#35e85a" stroke-width="1.1" />
<rect x="523.8" y="293.2" width="6.5" height="5.5" fill="#032a08" stroke="#1fae38" stroke-width="0.7" />
<line x1="525.0" y1="296.0" x2="529.0" y2="296.0" stroke="#35e85a" stroke-width="1.1" />
<rect x="523.8" y="340.2" width="6.5" height="5.5" fill="#032a08" stroke="#1fae38" stroke-width="0.7" />
<line x1="525.0" y1="343.0" x2="529.0" y2="343.0" stroke="#35e85a" stroke-width="1.1" />
<rect x="283.1" y="288.9" width="6.5" height="5.5" fill="#032a08" stroke="#1fae38" stroke-width="0.7" />
<line x1="284.3" y1="291.7" x2="288.4" y2="291.7" stroke="#35e85a" stroke-width="1.1" />
<rect x="239.8" y="294.1" width="6.5" height="5.5" fill="#032a08" stroke="#1fae38" stroke-width="0.7" />
<line x1="240.9" y1="296.8" x2="245.1" y2="296.8" stroke="#35e85a" stroke-width="1.1" />
<rect x="311.8" y="384.2" width="6.5" height="5.5" fill="#032a08" stroke="#1fae38" stroke-width="0.7" />
<line x1="312.9" y1="387.0" x2="317.1" y2="387.0" stroke="#35e85a" stroke-width="1.1" />
<rect x="348.8" y="384.2" width="6.5" height="5.5" fill="#032a08" stroke="#1fae38" stroke-width="0.7" />
<line x1="349.9" y1="387.0" x2="354.1" y2="387.0" stroke="#35e85a" stroke-width="1.1" />
<rect x="376.8" y="373.2" width="6.5" height="5.5" fill="#032a08" stroke="#1fae38" stroke-width="0.7" />
<line x1="377.9" y1="376.0" x2="382.1" y2="376.0" stroke="#35e85a" stroke-width="1.1" />
<rect x="433.8" y="373.2" width="6.5" height="5.5" fill="#032a08" stroke="#1fae38" stroke-width="0.7" />
<line x1="434.9" y1="376.0" x2="439.1" y2="376.0" stroke="#35e85a" stroke-width="1.1" />
<rect x="492.8" y="373.2" width="6.5" height="5.5" fill="#032a08" stroke="#1fae38" stroke-width="0.7" />
<line x1="493.9" y1="376.0" x2="498.1" y2="376.0" stroke="#35e85a" stroke-width="1.1" />
<rect x="435.8" y="347.2" width="6.5" height="5.5" fill="#032a08" stroke="#1fae38" stroke-width="0.7" />
<line x1="436.9" y1="350.0" x2="441.1" y2="350.0" stroke="#35e85a" stroke-width="1.1" />
<rect x="472.8" y="382.2" width="6.5" height="5.5" fill="#032a08" stroke="#1fae38" stroke-width="0.7" />
<line x1="473.9" y1="385.0" x2="478.1" y2="385.0" stroke="#35e85a" stroke-width="1.1" />
<rect x="528.8" y="231.2" width="6.5" height="5.5" fill="#032a08" stroke="#1fae38" stroke-width="0.7" />
<line x1="530.0" y1="234.0" x2="534.0" y2="234.0" stroke="#35e85a" stroke-width="1.1" />
<rect x="541.8" y="231.2" width="6.5" height="5.5" fill="#032a08" stroke="#1fae38" stroke-width="0.7" />
<line x1="543.0" y1="234.0" x2="547.0" y2="234.0" stroke="#35e85a" stroke-width="1.1" />
<rect x="553.8" y="231.2" width="6.5" height="5.5" fill="#032a08" stroke="#1fae38" stroke-width="0.7" />
<line x1="555.0" y1="234.0" x2="559.0" y2="234.0" stroke="#35e85a" stroke-width="1.1" />
<rect x="582.8" y="231.2" width="6.5" height="5.5" fill="#032a08" stroke="#1fae38" stroke-width="0.7" />
<line x1="584.0" y1="234.0" x2="588.0" y2="234.0" stroke="#35e85a" stroke-width="1.1" />
<rect x="523.8" y="294.2" width="6.5" height="5.5" fill="#032a08" stroke="#1fae38" stroke-width="0.7" />
<line x1="525.0" y1="297.0" x2="529.0" y2="297.0" stroke="#35e85a" stroke-width="1.1" />
<rect x="568.8" y="313.2" width="6.5" height="5.5" fill="#032a08" stroke="#1fae38" stroke-width="0.7" />
<line x1="570.0" y1="316.0" x2="574.0" y2="316.0" stroke="#35e85a" stroke-width="1.1" />
<rect x="596.8" y="313.2" width="6.5" height="5.5" fill="#032a08" stroke="#1fae38" stroke-width="0.7" />
<line x1="598.0" y1="316.0" x2="602.0" y2="316.0" stroke="#35e85a" stroke-width="1.1" />
<rect x="628.8" y="313.2" width="6.5" height="5.5" fill="#032a08" stroke="#1fae38" stroke-width="0.7" />
<line x1="630.0" y1="316.0" x2="634.0" y2="316.0" stroke="#35e85a" stroke-width="1.1" />
<rect x="662.8" y="313.2" width="6.5" height="5.5" fill="#032a08" stroke="#1fae38" stroke-width="0.7" />
<line x1="664.0" y1="316.0" x2="668.0" y2="316.0" stroke="#35e85a" stroke-width="1.1" />
<rect x="679.8" y="313.2" width="6.5" height="5.5" fill="#032a08" stroke="#1fae38" stroke-width="0.7" />
<line x1="681.0" y1="316.0" x2="685.0" y2="316.0" stroke="#35e85a" stroke-width="1.1" />
<rect x="525.8" y="341.2" width="6.5" height="5.5" fill="#032a08" stroke="#1fae38" stroke-width="0.7" />
<line x1="527.0" y1="344.0" x2="531.0" y2="344.0" stroke="#35e85a" stroke-width="1.1" />
<rect x="569.8" y="357.2" width="6.5" height="5.5" fill="#032a08" stroke="#1fae38" stroke-width="0.7" />
<line x1="571.0" y1="360.0" x2="575.0" y2="360.0" stroke="#35e85a" stroke-width="1.1" />
<rect x="635.8" y="366.2" width="6.5" height="5.5" fill="#032a08" stroke="#1fae38" stroke-width="0.7" />
<line x1="637.0" y1="369.0" x2="641.0" y2="369.0" stroke="#35e85a" stroke-width="1.1" />
<rect x="671.8" y="366.2" width="6.5" height="5.5" fill="#032a08" stroke="#1fae38" stroke-width="0.7" />
<line x1="673.0" y1="369.0" x2="677.0" y2="369.0" stroke="#35e85a" stroke-width="1.1" />
<rect x="534.8" y="394.2" width="6.5" height="5.5" fill="#032a08" stroke="#1fae38" stroke-width="0.7" />
<line x1="536.0" y1="397.0" x2="540.0" y2="397.0" stroke="#35e85a" stroke-width="1.1" />
<rect x="572.8" y="394.2" width="6.5" height="5.5" fill="#032a08" stroke="#1fae38" stroke-width="0.7" />
<line x1="574.0" y1="397.0" x2="578.0" y2="397.0" stroke="#35e85a" stroke-width="1.1" />
<rect x="602.8" y="394.2" width="6.5" height="5.5" fill="#032a08" stroke="#1fae38" stroke-width="0.7" />
<line x1="604.0" y1="397.0" x2="608.0" y2="397.0" stroke="#35e85a" stroke-width="1.1" />
<rect x="740.8" y="341.2" width="6.5" height="5.5" fill="#032a08" stroke="#1fae38" stroke-width="0.7" />
<line x1="742.0" y1="344.0" x2="746.0" y2="344.0" stroke="#35e85a" stroke-width="1.1" />
<rect x="740.8" y="370.2" width="6.5" height="5.5" fill="#032a08" stroke="#1fae38" stroke-width="0.7" />
<line x1="742.0" y1="373.0" x2="746.0" y2="373.0" stroke="#35e85a" stroke-width="1.1" />
<rect x="706.8" y="366.2" width="6.5" height="5.5" fill="#032a08" stroke="#1fae38" stroke-width="0.7" />
<line x1="708.0" y1="369.0" x2="712.0" y2="369.0" stroke="#35e85a" stroke-width="1.1" />
<rect x="812.8" y="265.2" width="6.5" height="5.5" fill="#032a08" stroke="#1fae38" stroke-width="0.7" />
<line x1="814.0" y1="268.0" x2="818.0" y2="268.0" stroke="#35e85a" stroke-width="1.1" />
<rect x="623.8" y="248.8" width="6.5" height="5.5" fill="#032a08" stroke="#1fae38" stroke-width="0.7" />
<line x1="625.0" y1="251.5" x2="629.0" y2="251.5" stroke="#35e85a" stroke-width="1.1" />
<rect x="623.8" y="267.2" width="6.5" height="5.5" fill="#032a08" stroke="#1fae38" stroke-width="0.7" />
<line x1="625.0" y1="270.0" x2="629.0" y2="270.0" stroke="#35e85a" stroke-width="1.1" />
<rect x="623.8" y="279.2" width="6.5" height="5.5" fill="#032a08" stroke="#1fae38" stroke-width="0.7" />
<line x1="625.0" y1="282.0" x2="629.0" y2="282.0" stroke="#35e85a" stroke-width="1.1" />
<rect x="530.8" y="341.2" width="6.5" height="5.5" fill="#032a08" stroke="#1fae38" stroke-width="0.7" />
<line x1="532.0" y1="344.0" x2="536.0" y2="344.0" stroke="#35e85a" stroke-width="1.1" />
<text x="271.0" y="239.3" fill="#f41cf4" font-size="5.2" font-weight="700" stroke="#f41cf4" stroke-width=".5" font-family="Liberation Sans, sans-serif" textLength="38" lengthAdjust="spacingAndGlyphs">CHR DN300 H4.2</text>
<text x="230.0" y="245.0" fill="#f41cf4" font-size="5" font-weight="700" stroke="#f41cf4" stroke-width=".5" font-family="Liberation Sans, sans-serif" textLength="13" lengthAdjust="spacingAndGlyphs">CHR-1</text>
<text x="230.0" y="251.0" fill="#f41cf4" font-size="5" font-weight="700" stroke="#f41cf4" stroke-width=".5" font-family="Liberation Sans, sans-serif" textLength="13" lengthAdjust="spacingAndGlyphs">DN200</text>
<text x="386.0" y="245.0" fill="#f41cf4" font-size="5" font-weight="700" stroke="#f41cf4" stroke-width=".5" font-family="Liberation Sans, sans-serif" textLength="13" lengthAdjust="spacingAndGlyphs">CHR-2</text>
<text x="386.0" y="251.0" fill="#f41cf4" font-size="5" font-weight="700" stroke="#f41cf4" stroke-width=".5" font-family="Liberation Sans, sans-serif" textLength="13" lengthAdjust="spacingAndGlyphs">DN200</text>
<text x="481.0" y="216.0" fill="#f41cf4" font-size="5.2" font-weight="700" stroke="#f41cf4" stroke-width=".5" font-family="Liberation Sans, sans-serif" textLength="35" lengthAdjust="spacingAndGlyphs">CR DN400 H5.0</text>
<text x="467.0" y="228.7" fill="#f41cf4" font-size="5.2" font-weight="700" stroke="#f41cf4" stroke-width=".5" font-family="Liberation Sans, sans-serif" textLength="35" lengthAdjust="spacingAndGlyphs">CR DN400 H4.6</text>
<text x="441.0" y="237.6" fill="#f41cf4" font-size="5.2" font-weight="700" stroke="#f41cf4" stroke-width=".5" font-family="Liberation Sans, sans-serif" textLength="38" lengthAdjust="spacingAndGlyphs">CHR DN300 H4.2</text>
<text x="459.0" y="255.0" fill="#f41cf4" font-size="5.2" font-weight="700" stroke="#f41cf4" stroke-width=".5" font-family="Liberation Sans, sans-serif" textLength="38" lengthAdjust="spacingAndGlyphs">CHS DN300 H3.8</text>
<text x="459.0" y="267.0" fill="#f41cf4" font-size="5.2" font-weight="700" stroke="#f41cf4" stroke-width=".5" font-family="Liberation Sans, sans-serif" textLength="38" lengthAdjust="spacingAndGlyphs">CHS DN350 H3.8</text>
<text x="420.0" y="285.3" fill="#f41cf4" font-size="5.2" font-weight="700" stroke="#f41cf4" stroke-width=".5" font-family="Liberation Sans, sans-serif" textLength="38" lengthAdjust="spacingAndGlyphs">CHR DN300 H4.2</text>
<text x="420.0" y="334.3" fill="#f41cf4" font-size="5.2" font-weight="700" stroke="#f41cf4" stroke-width=".5" font-family="Liberation Sans, sans-serif" textLength="38" lengthAdjust="spacingAndGlyphs">CHR DN450 H4.2</text>
<text x="425.0" y="367.5" fill="#f41cf4" font-size="5.2" font-weight="700" stroke="#f41cf4" stroke-width=".5" font-family="Liberation Sans, sans-serif" textLength="38" lengthAdjust="spacingAndGlyphs">CHR DN400 H3.6</text>
<text x="394.0" y="379.8" fill="#f41cf4" font-size="5.2" font-weight="700" stroke="#f41cf4" stroke-width=".5" font-family="Liberation Sans, sans-serif" textLength="35" lengthAdjust="spacingAndGlyphs">CS DN150 H3.2</text>
<text x="666.8" y="251.3" fill="#f41cf4" font-size="4.6" font-weight="700" stroke="#f41cf4" stroke-width=".5" font-family="Liberation Sans, sans-serif" textLength="36" lengthAdjust="spacingAndGlyphs">CHS-DN350 L=4.5</text>
<text x="666.8" y="255.4" fill="#f41cf4" font-size="4.6" font-weight="700" stroke="#f41cf4" stroke-width=".5" font-family="Liberation Sans, sans-serif" textLength="36" lengthAdjust="spacingAndGlyphs">H+3.800 V=12m3</text>
<text x="664.0" y="267.0" fill="#f41cf4" font-size="5.2" font-weight="700" stroke="#f41cf4" stroke-width=".5" font-family="Liberation Sans, sans-serif" textLength="38" lengthAdjust="spacingAndGlyphs">CHS DN350 H3.8</text>
<text x="664.0" y="274.4" fill="#f41cf4" font-size="5.2" font-weight="700" stroke="#f41cf4" stroke-width=".5" font-family="Liberation Sans, sans-serif" textLength="38" lengthAdjust="spacingAndGlyphs">CHS DN300 H3.8</text>
<text x="683.0" y="285.4" fill="#f41cf4" font-size="5.2" font-weight="700" stroke="#f41cf4" stroke-width=".5" font-family="Liberation Sans, sans-serif" textLength="35" lengthAdjust="spacingAndGlyphs">CR DN450 H4.6</text>
<text x="615.0" y="334.3" fill="#f41cf4" font-size="5.2" font-weight="700" stroke="#f41cf4" stroke-width=".5" font-family="Liberation Sans, sans-serif" textLength="35" lengthAdjust="spacingAndGlyphs">CR DN400 H4.6</text>
<text x="558.0" y="355.8" fill="#f41cf4" font-size="5.2" font-weight="700" stroke="#f41cf4" stroke-width=".5" font-family="Liberation Sans, sans-serif" textLength="35" lengthAdjust="spacingAndGlyphs">CS DN100 H3.2</text>
<text x="650.0" y="355.8" fill="#f41cf4" font-size="5.2" font-weight="700" stroke="#f41cf4" stroke-width=".5" font-family="Liberation Sans, sans-serif" textLength="35" lengthAdjust="spacingAndGlyphs">CS DN400 H3.4</text>
<text x="558.0" y="296.3" fill="#f41cf4" font-size="5" font-weight="700" stroke="#f41cf4" stroke-width=".5" font-family="Liberation Sans, sans-serif" textLength="10" lengthAdjust="spacingAndGlyphs">CR-3</text>
<text x="579.0" y="308.6" fill="#f41cf4" font-size="5" font-weight="700" stroke="#f41cf4" stroke-width=".5" font-family="Liberation Sans, sans-serif" textLength="10" lengthAdjust="spacingAndGlyphs">CR-4</text>
<text x="590.0" y="254.0" fill="#f41cf4" font-size="5" font-weight="700" stroke="#f41cf4" stroke-width=".5" font-family="Liberation Sans, sans-serif" textLength="0" lengthAdjust="spacingAndGlyphs"></text>
<text x="263.0" y="314.5" fill="#f41cf4" font-size="5.6" font-weight="700" stroke="#f41cf4" stroke-width=".5" font-family="Liberation Sans, sans-serif" textLength="41" lengthAdjust="spacingAndGlyphs" transform="rotate(25.6 263 314.5)">CHR DN450 H4.2</text>
<text x="398.0" y="183.5" fill="#28e048" font-size="5.5" font-weight="700">1168</text>
<!--TEXTS-->
</g>
<g id="legendtext"><text x="225" y="527" fill="#ff38ff" font-size="11" font-weight="600" textLength="75.8" lengthAdjust="spacingAndGlyphs" style="font-family:'Liberation Serif','Noto Serif CJK SC',serif">CR-冷冻水回水管</text><text x="398.4" y="527" fill="#ff30ff" font-size="11" font-weight="500" textLength="75.8" lengthAdjust="spacingAndGlyphs" style="font-family:'Liberation Serif','Noto Serif CJK SC',serif">CS-冷冻水供水管</text><text x="572" y="527" fill="#ff30ff" font-size="11" font-weight="500" textLength="75.8" lengthAdjust="spacingAndGlyphs" style="font-family:'Liberation Serif','Noto Serif CJK SC',serif">CR-冷却水回水管</text><text x="745.6" y="527" fill="#ff30ff" font-size="11" font-weight="500" textLength="75.8" lengthAdjust="spacingAndGlyphs" style="font-family:'Liberation Serif','Noto Serif CJK SC',serif">CR-冷却水供水管</text></g>
<g id="marks">
<line x1="479" y1="157" x2="479" y2="479.2" stroke="#ececec" stroke-width="1.2"/>
<polyline points="479,479.2 488,479.2" fill="none" stroke="#ececec" stroke-width="1.2"/>
<text x="489.5" y="481.5" fill="#ececec" font-size="5.5" font-weight="700">B1 1</text>
<line x1="453.5" y1="477.6" x2="459" y2="477.6" stroke="#ececec" stroke-width="1"/>
<polyline points="479,157 479,138.3 487.5,138.3" fill="none" stroke="#1c3cc8" stroke-width="1.2"/>
<text x="489" y="140.5" fill="#1c3cc8" font-size="5.5" font-weight="700">B1 1</text>
<line x1="453" y1="138" x2="459" y2="138" stroke="#1c3cc8" stroke-width="1"/>
<line x1="679" y1="113.6" x2="679" y2="525" stroke="#ececec" stroke-width="1.2"/>
<polyline points="679,525 688,525" fill="none" stroke="#ececec" stroke-width="1.2"/>
<text x="689.5" y="527" fill="#ececec" font-size="5.5" font-weight="700">B1 1</text>
<line x1="654" y1="523.5" x2="659" y2="523.5" stroke="#ececec" stroke-width="1"/>
<polyline points="679,113.6 679,100.8 688,100.8" fill="none" stroke="#1c3cc8" stroke-width="1.2"/>
<text x="689.5" y="103" fill="#1c3cc8" font-size="5.5" font-weight="700">B1 1</text>
<line x1="653" y1="100.5" x2="658" y2="100.5" stroke="#1c3cc8" stroke-width="1"/>
<polyline points="10.5,252 10.5,261.3 24,261.3" fill="none" stroke="#1c3cc8" stroke-width="1.2"/>
<text x="4.5" y="244.5" fill="#1c3cc8" font-size="5.5" font-weight="700">B1 4</text>
<line x1="8" y1="282" x2="12.5" y2="282" stroke="#1c3cc8" stroke-width="1"/>
<polyline points="975.5,261.3 990,261.3 990,251" fill="none" stroke="#ececec" stroke-width="1.2"/>
<text x="983" y="245" fill="#ececec" font-size="5.5" font-weight="700">B1 4</text>
<line x1="985" y1="281.3" x2="990" y2="281.3" stroke="#ececec" stroke-width="1"/>
</g>
</svg>
<div class="leg" style="left:183px;background:#12fb4e"></div>
<div class="leg" style="left:356.3px;background:#ff8a10"></div>
<div class="leg" style="left:530.3px;background:#8c8cff"></div>
<div class="leg" style="left:703.3px;background:#0d86ff"></div>
<div id="btn"><span>平面出图</span></div>
<div id="botline"></div><div id="lefte"></div><div id="pan"><i></i></div>
</body></html>
